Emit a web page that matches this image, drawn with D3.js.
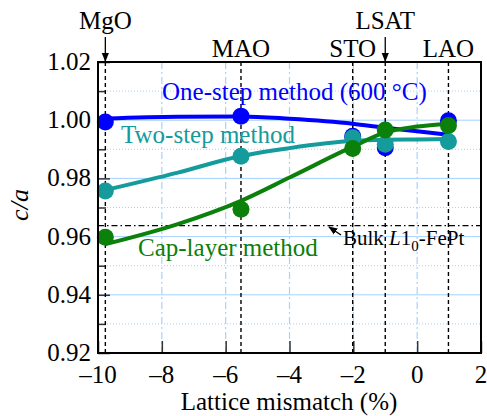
<!DOCTYPE html>
<html>
<head>
<meta charset="utf-8">
<script src="https://cdn.jsdelivr.net/npm/d3@7"></script>
<style>
  body { margin: 0; background: #fff; }
</style>
</head>
<body>
<svg id="chart"></svg>
<script>
// substrates and their lattice mismatch (%)
let substrates = ['MgO', 'MAO', 'STO', 'LSAT', 'LAO']
let mismatch = [-9.77, -5.52, -2.02, -1.0, 0.98]

// measured c/a at each substrate
let oneStep = [0.9994, 1.0014, 0.9945, 0.9905, 0.9998]
let twoStep = [0.9757, 0.9876, 0.9940, 0.9917, 0.9927]
let capLayer = [0.9598, 0.9694, 0.9903, 0.9966, 0.9982]

// guide-to-eye curves
let fitX = [-9.77, -7.5, -5.52, -4, -2.02, -1.0, 0, 0.98]
let oneStepFit = [1.0006, 1.0012, 1.0013, 1.0005, 0.9988, 0.9974, 0.9962, 0.9950]
let twoStepFit = [0.9760, 0.9820, 0.9877, 0.9904, 0.9929, 0.9933, 0.9934, 0.9935]
let capLayerFit = [0.9574, 0.9643, 0.9723, 0.9803, 0.9909, 0.9958, 0.9978, 0.9988]

let bulkFePt = 0.9638

let xTicks = [-10, -8, -6, -4, -2, 0, 2]
let yTicks = [0.92, 0.94, 0.96, 0.98, 1.00, 1.02]
let yMinor = [0.93, 0.95, 0.97, 0.99, 1.01]

let w = 487
let h = 416
let m = {l: 98, r: 6, t: 62, b: 63}

let blue = '#0000ff'
let teal = '#159b9b'
let green = '#0b800b'
let gridCol = '#a6d2ff'

let svg = d3.select('#chart').attr('width', w).attr('height', h)

let xScale = d3.scaleLinear().domain([-10, 2]).range([m.l, w - m.r])
let yScale = d3.scaleLinear().domain([0.92, 1.02]).range([h - m.b, m.t])

svg.append('defs').append('marker')
   .attr('id', 'arr')
   .attr('viewBox', '0 0 10 10')
   .attr('refX', 9).attr('refY', 5)
   .attr('markerWidth', 7).attr('markerHeight', 7)
   .attr('orient', 'auto')
   .append('path').attr('d', 'M0,1 L10,5 L0,9 Z').attr('fill', '#000')

// grid
svg.selectAll('.hmaj').data(yTicks.slice(1, -1)).enter().append('line')
   .attr('x1', m.l).attr('x2', w - m.r)
   .attr('y1', d => yScale(d)).attr('y2', d => yScale(d))
   .attr('stroke', gridCol).attr('stroke-width', 1)
svg.selectAll('.hmin').data(yMinor).enter().append('line')
   .attr('x1', m.l).attr('x2', w - m.r)
   .attr('y1', d => yScale(d)).attr('y2', d => yScale(d))
   .attr('stroke', gridCol).attr('stroke-width', 1).attr('stroke-dasharray', '1,2')
svg.selectAll('.vmaj').data(xTicks.slice(1, -1)).enter().append('line')
   .attr('x1', d => xScale(d)).attr('x2', d => xScale(d))
   .attr('y1', m.t).attr('y2', h - m.b)
   .attr('stroke', gridCol).attr('stroke-width', 1.2).attr('stroke-dasharray', '7,3,2,3')

// axis ticks (inside)
let yAxis = d3.axisRight(yScale).tickValues(yTicks).tickSize(12).tickFormat('')
svg.append('g').attr('transform', 'translate(' + m.l + ',0)').call(yAxis)
let yAxisMinor = d3.axisRight(yScale).tickValues(yMinor).tickSize(8).tickFormat('')
svg.append('g').attr('transform', 'translate(' + m.l + ',0)').call(yAxisMinor)
let xAxis = d3.axisTop(xScale).tickValues(xTicks).tickSize(12).tickFormat('')
svg.append('g').attr('transform', 'translate(0,' + (h - m.b) + ')').call(xAxis)
svg.selectAll('.domain').remove()
svg.selectAll('.tick line').attr('stroke', '#333').attr('stroke-width', 1.5)

// tick labels
let fmtMinus = d => d < 0 ? '\u2013' + Math.abs(d) : '' + d
svg.selectAll('.xl').data(xTicks).enter().append('text')
   .attr('x', d => xScale(d)).attr('y', h - m.b + 30)
   .attr('text-anchor', 'middle').attr('font-size', 25)
   .text(fmtMinus)
svg.selectAll('.yl').data(yTicks).enter().append('text')
   .attr('x', m.l - 7).attr('y', d => yScale(d) + 8)
   .attr('text-anchor', 'end').attr('font-size', 25)
   .text(d => d.toFixed(2))

svg.append('text').attr('x', 289).attr('y', 410)
   .attr('text-anchor', 'middle').attr('font-size', 25)
   .text('Lattice mismatch (%)')
svg.append('text').attr('transform', 'translate(28,205) rotate(-90)')
   .attr('text-anchor', 'middle').attr('font-size', 26).attr('font-style', 'italic')
   .text('c/a')

// substrate dashed lines and labels
svg.selectAll('.sub').data(mismatch).enter().append('line')
   .attr('x1', d => xScale(d)).attr('x2', d => xScale(d))
   .attr('y1', m.t).attr('y2', h - m.b)
   .attr('stroke', '#000').attr('stroke-width', 1.4).attr('stroke-dasharray', '4,3')
let highLabel = ['MgO', 'LSAT']
substrates.forEach((s, i) => {
  let hi = highLabel.includes(s)
  svg.append('text')
     .attr('x', xScale(mismatch[i])).attr('y', hi ? 29 : 57)
     .attr('text-anchor', 'middle').attr('font-size', 25)
     .text(s)
  if (hi) {
    svg.append('line')
       .attr('x1', xScale(mismatch[i])).attr('x2', xScale(mismatch[i]))
       .attr('y1', 37).attr('y2', m.t - 1)
       .attr('stroke', '#000').attr('stroke-width', 1.3)
       .attr('marker-end', 'url(#arr)')
  }
})

// bulk reference line
svg.append('line')
   .attr('x1', m.l).attr('x2', w - m.r)
   .attr('y1', yScale(bulkFePt)).attr('y2', yScale(bulkFePt))
   .attr('stroke', '#000').attr('stroke-width', 1.3).attr('stroke-dasharray', '6,3,1.5,3')
svg.append('line')
   .attr('x1', 341).attr('y1', 235).attr('x2', 329).attr('y2', 227)
   .attr('stroke', '#000').attr('stroke-width', 1.3)
   .attr('marker-end', 'url(#arr)')
let bulk = svg.append('text').attr('x', 343).attr('y', 245).attr('font-size', 21)
bulk.append('tspan').text('Bulk ')
bulk.append('tspan').attr('font-style', 'italic').text('L')
bulk.append('tspan').text('1')
bulk.append('tspan').attr('font-size', 15).attr('dy', 6).text('0')
bulk.append('tspan').attr('dy', -6).text('-FePt')

// series
let series = [
  {pts: oneStep, fit: oneStepFit, col: blue},
  {pts: twoStep, fit: twoStepFit, col: teal},
  {pts: capLayer, fit: capLayerFit, col: green}
]
let lineGen = d3.line()
  .x((d, i) => xScale(fitX[i]))
  .y(d => yScale(d))
  .curve(d3.curveMonotoneX)

series.forEach(s => {
  svg.append('path').datum(s.fit)
     .attr('d', lineGen)
     .attr('fill', 'none').attr('stroke', s.col).attr('stroke-width', 4)
})
series.forEach(s => {
  svg.selectAll(null).data(s.pts).enter().append('circle')
     .attr('cx', (d, i) => xScale(mismatch[i]))
     .attr('cy', d => yScale(d))
     .attr('r', 8.5)
     .attr('fill', s.col)
})

// series labels
svg.append('text').attr('x', 162).attr('y', 100).attr('font-size', 25)
   .attr('fill', blue).text('One-step method (600 \u00b0C)')
svg.append('text').attr('x', 121).attr('y', 143).attr('font-size', 25)
   .attr('fill', teal).text('Two-step method')
svg.append('text').attr('x', 138).attr('y', 256).attr('font-size', 25)
   .attr('fill', green).text('Cap-layer method')

// frame
svg.append('rect')
   .attr('x', m.l).attr('y', m.t)
   .attr('width', w - m.l - m.r).attr('height', h - m.t - m.b)
   .attr('fill', 'none').attr('stroke', '#000').attr('stroke-width', 2)

// serif everywhere (one family name per text)
svg.selectAll('text').attr('font-family', 'Liberation Serif')
</script>
</body>
</html>
